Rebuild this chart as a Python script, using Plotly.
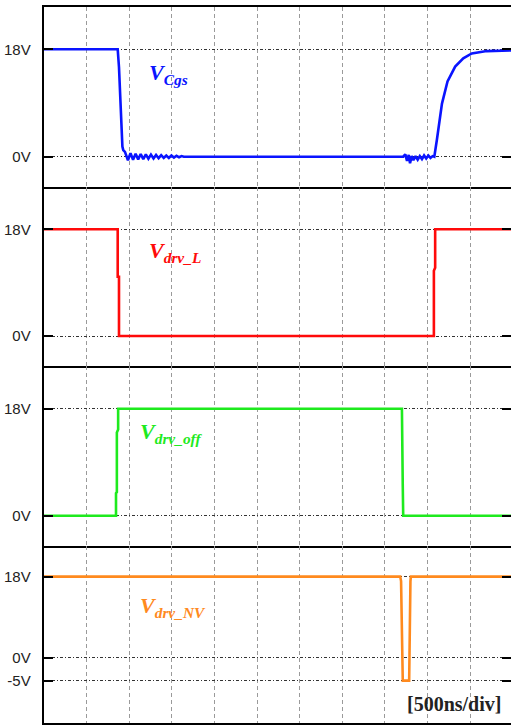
import plotly.graph_objects as go

# ---------------- data (x in divisions of 500 ns, y in volts) ----------------
x_cgs = [0, 1.73, 1.76, 1.80, 1.84, 1.86, 1.90, 1.97,
         2.03, 2.09, 2.15, 2.21, 2.27, 2.33, 2.39, 2.45, 2.51, 2.57, 2.63,
         2.69, 2.75, 2.81, 2.87, 2.93, 2.99, 3.05, 3.11, 3.17, 3.23, 3.28,
         8.43, 8.48, 8.52, 8.56, 8.59, 8.63, 8.67, 8.72, 8.77, 8.82, 8.87,
         8.92, 8.97, 9.02, 9.07, 9.12, 9.16,
         9.22, 9.34, 9.47, 9.65, 9.84, 10.04, 10.39, 10.96]
v_cgs = [18, 18, 15, 6.7, 1.7, 1.1, 0.8, -0.6,
         0.6, -0.5, 0.5, -0.45, 0.45, -0.4, 0.4, -0.35, 0.35, -0.3, 0.3,
         -0.25, 0.25, -0.2, 0.2, -0.2, 0.2, -0.15, 0.15, -0.1, 0.1, 0,
         0, 0.4, -0.7, 0.3, -1.1, 0.1, -0.6, 0.1, -0.5, 0.1, -0.4,
         0.2, -0.3, 0.2, -0.2, 0.1, 0,
         2.8, 8.9, 12.6, 15.1, 16.5, 17.3, 17.7, 17.8]

x_drv_l = [0, 1.73, 1.73, 1.76, 1.76, 9.15, 9.15, 9.18, 9.18, 10.96]
v_drv_l = [18, 18, 10, 10, 0, 0, 11, 11.5, 18, 18]

x_drv_off = [0, 1.69, 1.69, 1.71, 1.71, 1.74, 1.74, 8.40, 8.42, 8.43, 10.96]
v_drv_off = [0, 0, 3.8, 4.0, 14, 14.5, 18, 18, 5, 0, 0]

x_drv_nv = [0, 8.36, 8.38, 8.40, 8.42, 8.57, 8.58, 8.60, 8.61, 10.96]
v_drv_nv = [18, 18, 17, -2, -5, -5, 6, 17, 18, 18]

ticks_main = [0, 18]
ticks_main_text = ["0V", "18V"]
ticks_nv = [-5, 0, 18]
ticks_nv_text = ["-5V", "0V", "18V"]

labels = ["V<sub>Cgs</sub>", "V<sub>drv_L</sub>", "V<sub>drv_off</sub>", "V<sub>drv_NV</sub>"]
scale_text = "[500ns/div]"

# ---------------- style ----------------
colors = ["#0a14ff", "#ff0a0a", "#1eea1e", "#ff8a1e"]
domains = [[0.7486, 1.0], [0.4986, 0.7486], [0.2479, 0.4986], [0.0, 0.2479]]
yranges = [[-5.08, 25.09], [-5.06, 25.14], [-5.0, 25.2], [-14.38, 24.88]]
label_pos = [(2.41, 13.9), (2.41, 14.1), (2.21, 14.0), (2.21, 11.2)]
PAD = "\u00a0\u00a0"  # gap between tick label and axis

series = [(x_cgs, v_cgs), (x_drv_l, v_drv_l), (x_drv_off, v_drv_off), (x_drv_nv, v_drv_nv)]

FIG_W = 511
PLOT_W = FIG_W - 44

fig = go.Figure()
for i, (xs, ys) in enumerate(series):
    n = "" if i == 0 else str(i + 1)
    fig.add_trace(go.Scatter(x=xs, y=ys, mode="lines",
                             line=dict(color=colors[i], width=2.6),
                             xaxis="x" + n, yaxis="y" + n, showlegend=False))

layout = dict(width=FIG_W, height=726, autosize=False,
              margin=dict(l=44, r=0, t=7, b=3, pad=0, autoexpand=False),
              paper_bgcolor="white", plot_bgcolor="white",
              showlegend=False)
annotations = []

for i in range(4):
    n = "" if i == 0 else str(i + 1)
    tv = ticks_nv if i == 3 else ticks_main
    tt = ticks_nv_text if i == 3 else ticks_main_text
    layout["xaxis" + n] = dict(domain=[0, 1], range=[0, 10.96], anchor="y" + n,
                               showticklabels=False, ticks="", dtick=1, tick0=0,
                               showgrid=True, gridcolor="#9a9a9a", gridwidth=1,
                               griddash="4px,3px", zeroline=False,
                               showline=True, linecolor="black", linewidth=2,
                               mirror=(i == 0), automargin=False)
    layout["yaxis" + n] = dict(domain=domains[i], range=yranges[i], anchor="x" + n,
                               tickmode="array", tickvals=tv,
                               ticktext=[t + PAD for t in tt],
                               ticks="inside", ticklen=9, tickwidth=2, tickcolor="black",
                               tickfont=dict(family="Liberation Sans, Arial", size=15, color="#222"),
                               showgrid=True, gridcolor="#333333", gridwidth=1,
                               griddash="3px,2px,1px,2px", zeroline=False,
                               showline=True, linecolor="black", linewidth=2,
                               mirror="ticks", automargin=False)
    lx, ly = label_pos[i]
    annotations.append(dict(
        x=lx, y=ly, xref="x" + n, yref="y" + n, xanchor="left", yanchor="middle",
        text="<b><i>" + labels[i] + "</i></b>", showarrow=False,
        font=dict(family="Liberation Serif, Times New Roman", size=22, color=colors[i])))

annotations.append(dict(
    x=(503 - 44) / PLOT_W, y=(723 - 704) / 716, xref="paper", yref="paper",
    xanchor="right", yanchor="middle", text="<b>" + scale_text + "</b>",
    showarrow=False, font=dict(family="Liberation Serif, Times New Roman", size=20, color="#222")))

layout["annotations"] = annotations
fig.update_layout(**layout)

fig.write_html("out.html")
